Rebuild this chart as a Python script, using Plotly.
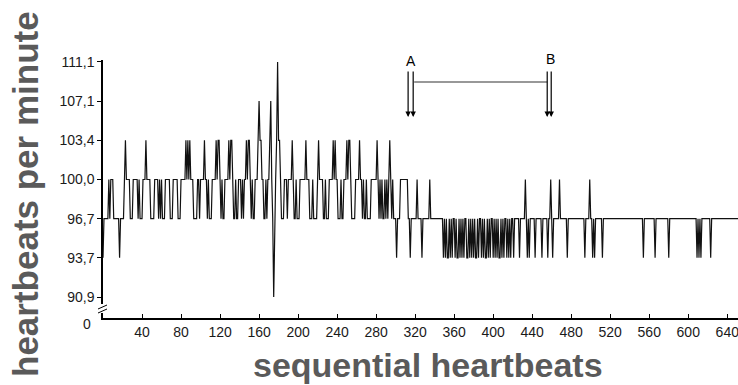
import plotly.graph_objects as go

# ---- data (heart rate levels, bpm) as run-length pairs (value, number of beats) ----
phase1_runs = [
    (93.7, 1), (96.7, 5), (100.0, 1), (96.7, 1), (100.0, 3), (96.7, 6), (93.7, 1), (96.7, 4),
    (100.0, 1), (103.4, 1), (100.0, 4), (96.7, 3), (100.0, 5), (96.7, 1), (100.0, 1), (96.7, 3),
    (100.0, 3), (103.4, 1), (100.0, 4), (96.7, 4), (100.0, 4), (96.7, 1), (100.0, 1), (96.7, 1),
    (100.0, 1), (96.7, 3), (100.0, 5), (96.7, 3), (100.0, 5), (96.7, 3), (100.0, 5), (103.4, 1),
    (100.0, 1), (103.4, 1), (100.0, 1), (103.4, 1), (100.0, 3), (96.7, 4), (100.0, 2), (96.7, 1),
    (100.0, 4), (103.4, 1), (100.0, 2), (96.7, 1), (100.0, 1), (96.7, 3), (100.0, 4), (103.4, 1),
    (100.0, 1), (103.4, 2), (100.0, 1), (96.7, 1), (100.0, 1), (96.7, 2), (100.0, 4), (103.4, 1),
    (100.0, 1), (103.4, 2), (100.0, 1), (96.7, 2), (100.0, 1), (96.7, 2), (100.0, 3), (96.7, 1),
    (100.0, 1), (96.7, 1), (100.0, 2), (103.4, 1), (100.0, 1), (103.4, 2), (100.0, 1), (96.7, 1),
    (100.0, 1), (96.7, 2), (100.0, 3), (103.4, 1), (107.1, 1), (103.4, 2), (100.0, 2), (96.7, 2),
    (100.0, 1), (96.7, 1), (100.0, 2), (103.4, 1), (107.1, 1), (100.0, 1), (96.7, 1), (90.9, 1),
    (96.7, 1), (100.0, 1), (103.4, 1), (111.1, 1), (103.4, 2), (100.0, 1),
]
phase1b_runs = [
    (96.7, 3), (100.0, 3), (96.7, 1), (100.0, 4), (103.4, 1), (100.0, 1), (96.7, 2), (100.0, 1),
    (96.7, 3), (100.0, 6), (103.4, 1), (100.0, 3), (96.7, 3), (100.0, 1), (96.7, 4), (100.0, 1),
    (103.4, 1), (100.0, 4), (96.7, 2), (100.0, 1), (96.7, 3), (100.0, 4), (103.4, 1), (100.0, 1),
    (103.4, 1), (100.0, 2), (96.7, 3), (100.0, 1), (96.7, 2), (100.0, 3), (103.4, 1), (100.0, 1),
    (103.4, 2), (100.0, 1), (96.7, 4), (100.0, 4), (103.4, 1), (100.0, 2), (96.7, 1), (100.0, 1),
    (96.7, 2), (100.0, 1), (96.7, 4), (100.0, 6), (103.4, 1), (100.0, 1), (96.7, 1), (100.0, 1),
    (96.7, 1), (100.0, 1), (96.7, 2), (100.0, 1), (96.7, 1), (100.0, 1), (96.7, 1), (100.0, 1),
    (103.4, 1),
]
phase2_runs = [
    (100.0, 1), (96.7, 1), (100.0, 1), (96.7, 3), (93.7, 1), (96.7, 3), (100.0, 8), (96.7, 2),
    (93.7, 1), (96.7, 6), (100.0, 1), (96.7, 4), (93.7, 1), (96.7, 7), (100.0, 1), (96.7, 13),
]
dense_bpm = [
    93.7, 96.7, 93.7, 96.7, 93.7, 93.7, 96.7, 93.7, 96.7, 93.7, 96.7, 96.7, 93.7, 96.7, 93.7,
    93.7, 96.7, 93.7, 96.7, 93.7, 96.7, 93.7, 96.7, 96.7, 93.7, 93.7, 96.7, 93.7, 96.7, 93.7,
    96.7, 93.7, 96.7, 93.7, 93.7, 96.7, 93.7, 96.7, 96.7, 93.7, 96.7, 93.7, 96.7, 93.7, 93.7,
    96.7, 93.7, 96.7, 93.7, 96.7, 96.7, 93.7, 96.7, 93.7, 96.7, 93.7, 96.7, 93.7, 93.7, 96.7,
    93.7, 96.7, 93.7, 96.7, 96.7, 93.7, 96.7, 93.7, 96.7, 93.7, 96.7, 96.7, 93.7, 96.7,
]
phase3_runs = [
    (96.7, 4), (93.7, 1), (96.7, 5), (100.0, 1), (96.7, 1), (93.7, 1), (96.7, 1), (93.7, 1),
    (96.7, 5), (93.7, 1), (96.7, 6), (93.7, 1), (96.7, 5), (93.7, 1), (96.7, 2), (100.0, 1),
    (96.7, 1), (93.7, 1), (96.7, 6), (100.0, 1), (96.7, 7), (93.7, 1), (96.7, 17), (93.7, 1),
    (96.7, 4), (100.0, 1), (96.7, 2), (93.7, 1), (96.7, 1), (93.7, 1), (96.7, 7), (93.7, 1),
    (96.7, 41), (93.7, 1), (96.7, 11), (93.7, 1), (96.7, 13), (93.7, 1), (96.7, 28), (93.7, 1),
    (96.7, 1), (93.7, 1), (96.7, 1), (93.7, 1), (96.7, 9), (93.7, 1), (96.7, 28),
]

level_labels = ["90,9", "93,7", "96,7", "100,0", "103,4", "107,1", "111,1"]
x_tick_values = [40, 80, 120, 160, 200, 240, 280, 320, 360, 400, 440, 480, 520, 560, 600, 640]
marker_A = [312.8, 318.0]
marker_B = [455.4, 459.5]


def expand(runs):
    out = []
    for v, n in runs:
        out += [v] * n
    return out


bpm = expand(phase1_runs) + expand(phase1b_runs) + expand(phase2_runs) + dense_bpm + expand(phase3_runs)
beats = list(range(len(bpm)))
bpm_labels = [f"{v:.1f}".replace(".", ",") for v in bpm]

# plot-area geometry helpers (paper coords)
PLOT_TOP, PLOT_BOTTOM = 60, 318
PH = PLOT_BOTTOM - PLOT_TOP
def py(p):
    return (PLOT_BOTTOM - p) / PH

fig = go.Figure()
fig.add_trace(go.Scatter(x=beats, y=bpm_labels, mode="lines",
                         line=dict(color="#111111", width=1.2), hoverinfo="skip"))

font_ticks = dict(family="Liberation Sans, Arial, sans-serif", size=14, color="#1a1a1a")
title_font = dict(family="Liberation Sans, Arial, sans-serif", color="#5a5a5a", weight="bold")

fig.update_layout(
    width=738, height=385, autosize=False,
    margin=dict(l=103, r=0, t=PLOT_TOP, b=385 - PLOT_BOTTOM, pad=0),
    plot_bgcolor="white", paper_bgcolor="white", showlegend=False,
    xaxis=dict(range=[0, 651], tickmode="array", tickvals=x_tick_values,
               ticktext=[str(v) for v in x_tick_values], ticks="inside", ticklen=4,
               tickcolor="black", showline=True, linecolor="black", linewidth=1.5,
               showgrid=False, zeroline=False, tickfont=font_ticks, automargin=False,
               ticklabeloverflow="allow"),
    yaxis=dict(type="category", categoryorder="array", categoryarray=level_labels,
               range=[-0.536, 6.05], tickmode="array", tickvals=level_labels,
               ticks="outside", ticklen=4, tickcolor="black", showline=True,
               linecolor="black", linewidth=1.5, showgrid=False, zeroline=False,
               tickfont=font_ticks, automargin=False, ticklabeloverflow="allow"),
)

annotations = [
    dict(text="sequential heartbeats", xref="paper", yref="paper", x=(428 - 103) / 635, y=py(365),
         xanchor="center", yanchor="middle", showarrow=False, font=dict(title_font, size=34)),
    dict(text="heartbeats per minute", xref="paper", yref="paper", x=(25 - 103) / 635, y=py(194),
         xanchor="center", yanchor="middle", showarrow=False, textangle=-90,
         font=dict(title_font, size=35)),
    dict(text="0", xref="paper", yref="paper", x=(93 - 103) / 635, y=py(324),
         xanchor="right", yanchor="middle", showarrow=False, font=font_ticks),
    dict(text="A", xref="x", yref="paper", x=sum(marker_A) / 2, y=py(61),
         xanchor="center", yanchor="middle", showarrow=False,
         font=dict(family="Liberation Sans, Arial, sans-serif", size=14, color="black")),
    dict(text="B", xref="x", yref="paper", x=sum(marker_B) / 2 + 1, y=py(59),
         xanchor="center", yanchor="middle", showarrow=False,
         font=dict(family="Liberation Sans, Arial, sans-serif", size=14, color="black")),
]
for xm in marker_A + marker_B:
    annotations.append(dict(x=xm, y=py(117), xref="x", yref="paper", text="", showarrow=True,
                            ax=0, ay=-47, arrowhead=2, arrowsize=0.9, arrowwidth=1.2,
                            arrowcolor="black"))
fig.update_layout(annotations=annotations)

shapes = [
    dict(type="line", xref="x", yref="paper", x0=marker_A[1] + 1, x1=marker_B[0],
         y0=py(82), y1=py(82), line=dict(color="#333333", width=1.2)),
    # axis break mark
    dict(type="rect", xref="paper", yref="paper", x0=-6 / 635, x1=4 / 635, y0=py(313), y1=py(304),
         fillcolor="white", line=dict(width=0)),
    dict(type="line", xref="paper", yref="paper", x0=-5 / 635, x1=4 / 635, y0=py(309), y1=py(305),
         line=dict(color="black", width=1)),
    dict(type="line", xref="paper", yref="paper", x0=-5 / 635, x1=4 / 635, y0=py(313), y1=py(309),
         line=dict(color="black", width=1)),
]
fig.update_layout(shapes=shapes)

fig.write_html("out.html", config={"displayModeBar": False},
               post_script="document.body.style.margin='0';document.body.style.overflow='hidden';")
